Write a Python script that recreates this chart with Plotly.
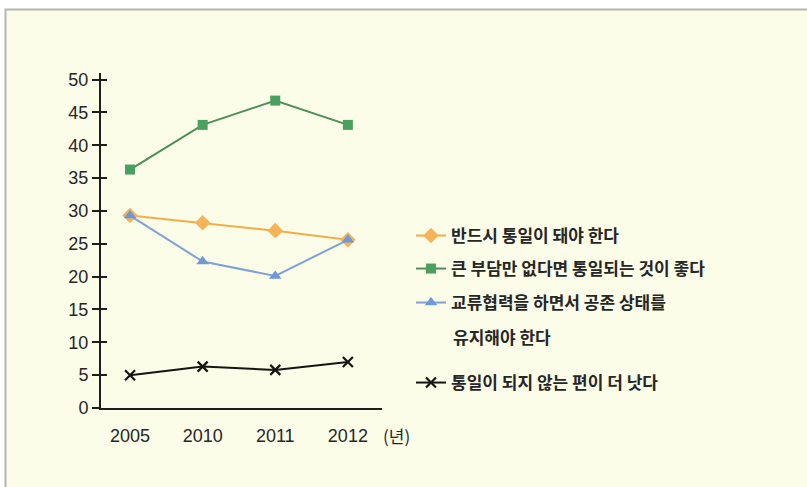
import plotly.graph_objects as go

years = ["2005", "2010", "2011", "2012"]
must_unify = [29.3, 28.2, 27.0, 25.6]
unify_if_no_burden = [36.3, 43.1, 46.8, 43.1]
coexist = [29.3, 22.3, 20.1, 25.6]
better_not = [5.0, 6.3, 5.8, 7.0]

names = [
    "반드시 통일이 돼야 한다",
    "큰 부담만 없다면 통일되는 것이 좋다",
    "교류협력을 하면서 공존 상태를",
    "통일이 되지 않는 편이 더 낫다",
]
name_line2 = "유지해야 한다"
unit_label = "(년)"

W, H = 807, 487
L, R, T, B = 101, 807 - 382, 73, 487 - 408
pw, ph = W - L - R, H - T - B

def px_x(p):
    return (p - L) / pw

def px_y(p):
    return (H - B - p) / ph

KFONT = "Noto Sans CJK KR"
NFONT = "Liberation Sans, Arial"
TXT = "#262626"

fig = go.Figure()

fig.add_trace(go.Scatter(
    x=years, y=must_unify, name=names[0], mode="lines+markers",
    line=dict(color="#f3ad48", width=2),
    marker=dict(symbol="diamond", size=12, color="#f7b25a"),
    legend="legend"))
fig.add_trace(go.Scatter(
    x=years, y=unify_if_no_burden, name=names[1], mode="lines+markers",
    line=dict(color="#4e8f55", width=2),
    marker=dict(symbol="square", size=10, color="#4aa05e"),
    legend="legend2"))
fig.add_trace(go.Scatter(
    x=years, y=coexist, name=names[2], mode="lines+markers",
    line=dict(color="#7ea2d6", width=2),
    marker=dict(symbol="triangle-up", size=11, color="#6f98d8"),
    legend="legend3"))
fig.add_trace(go.Scatter(
    x=years, y=better_not, name=names[3], mode="lines+markers",
    line=dict(color="#141414", width=2),
    marker=dict(symbol="x-thin", size=10, line=dict(color="#141414", width=2.2)),
    legend="legend4"))

leg_common = dict(
    xanchor="left", yanchor="middle", bgcolor="rgba(0,0,0,0)",
    font=dict(family=KFONT, size=17, color=TXT, weight="bold"),
    itemsizing="trace",
)
leg_x = px_x(411)
legends = {}
for key, ypix in zip(["legend", "legend2", "legend3", "legend4"], [236, 269, 303, 383]):
    legends[key] = dict(x=leg_x, y=px_y(ypix), **leg_common)

fig.update_layout(
    width=W, height=H,
    margin=dict(l=L, r=R, t=T, b=B, pad=0),
    paper_bgcolor="white",
    plot_bgcolor="rgba(0,0,0,0)",
    showlegend=True,
    **legends,
    xaxis=dict(
        type="category", range=[-0.4, 3.47],
        showgrid=False, zeroline=False,
        showline=True, linecolor="#1e1e1e", linewidth=2,
        ticks="", ticklabelstandoff=10,
        tickfont=dict(family=NFONT, size=18, color=TXT),
    ),
    yaxis=dict(
        range=[0, 51], tickvals=list(range(0, 51, 5)),
        showgrid=False, zeroline=False,
        showline=True, linecolor="#1e1e1e", linewidth=2,
        ticks="outside", ticklen=7, tickwidth=2, tickcolor="#1e1e1e",
        tickfont=dict(family=NFONT, size=18, color=TXT),
    ),
    yaxis2=dict(
        range=[0, 51], tickvals=list(range(0, 51, 5)), overlaying="y",
        side="left", showgrid=False, zeroline=False, showline=False,
        ticks="inside", ticklen=6, tickwidth=2, tickcolor="#1e1e1e",
        showticklabels=False,
    ),
)

# anchor trace for the crossing-tick axis (no visible marks)
fig.add_trace(go.Scatter(x=[years[0]], y=[None], yaxis="y2", showlegend=False, hoverinfo="skip"))

# background panel with border
fig.add_shape(type="rect", xref="paper", yref="paper",
              x0=px_x(5.5), x1=px_x(815), y0=px_y(9.5), y1=px_y(495),
              fillcolor="#fcfde8", line=dict(color="#b5b5ad", width=2), layer="below")

fig.add_annotation(text=name_line2, xref="paper", yref="paper",
                   x=px_x(451), y=px_y(336), xanchor="left", yanchor="middle",
                   showarrow=False, font=dict(family=KFONT, size=17, color=TXT, weight="bold"))
fig.add_annotation(text=unit_label, xref="paper", yref="paper",
                   x=px_x(396), y=px_y(435), xanchor="center", yanchor="middle",
                   showarrow=False, font=dict(family=KFONT, size=17, color=TXT))

fig.write_html("out.html")
